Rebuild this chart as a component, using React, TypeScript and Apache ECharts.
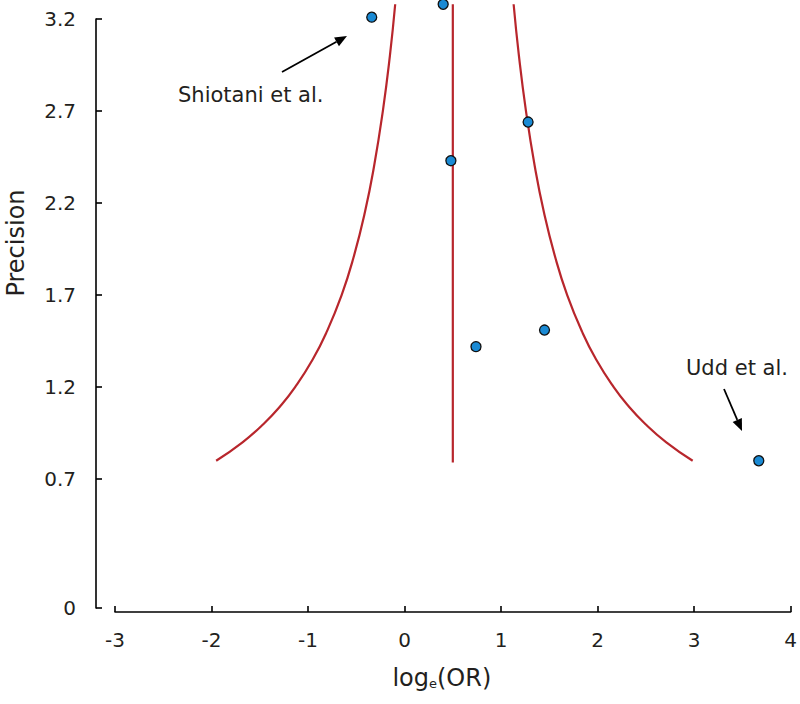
import React, { useEffect, useRef } from "react";
import * as echarts from "echarts";

// ---- data ----
const xTickValues = [-3, -2, -1, 0, 1, 2, 3, 4];
const yTickValues = [0, 0.7, 1.2, 1.7, 2.2, 2.7, 3.2];

// individual studies: log odds ratio and precision (1/SE)
const studyLogOR = [-0.34, 0.4, 1.28, 0.48, 0.74, 1.45, 3.67];
const studyPrecision = [3.21, 3.28, 2.64, 2.43, 1.42, 1.51, 0.8];

// pooled estimate (vertical line)
const pooledLogOR = 0.5;
const pooledPrecisionRange = [0.79, 3.28];

// funnel limits
const funnelPrecision = [0.8, 0.9, 1.0, 1.1, 1.2, 1.35, 1.5, 1.7, 1.9, 2.15, 2.4, 2.7, 3.0, 3.28];
const funnelLeft = [-1.952, -1.679, -1.461, -1.282, -1.134, -0.952, -0.807, -0.652, -0.531, -0.411, -0.316, -0.225, -0.152, -0.097];
const funnelRight = [2.985, 2.712, 2.494, 2.315, 2.167, 1.985, 1.84, 1.685, 1.564, 1.444, 1.349, 1.258, 1.185, 1.13];

const FONT = "DejaVu Sans";
const TEXT = "#231f20";
const RED = "#b8262c";
const BLUE = "#1a8ad4";

function arrow(x1: number, y1: number, x2: number, y2: number) {
  const dx = x2 - x1;
  const dy = y2 - y1;
  const len = Math.sqrt(dx * dx + dy * dy);
  const ux = dx / len;
  const uy = dy / len;
  const head = 12;
  const half = 5;
  const bx = x2 - ux * head;
  const by = y2 - uy * head;
  const px = -uy;
  const py = ux;
  return [
    {
      type: "line",
      shape: { x1, y1, x2: bx, y2: by },
      style: { stroke: "#000", lineWidth: 1.8 },
    },
    {
      type: "polygon",
      shape: {
        points: [
          [x2, y2],
          [bx + px * half, by + py * half],
          [bx - px * half, by - py * half],
        ],
      },
      style: { fill: "#000" },
    },
  ];
}

export default function App() {
  const ref = useRef<HTMLDivElement>(null);

  useEffect(() => {
    if (!ref.current) return;
    const chart = echarts.init(ref.current, null, { renderer: "svg" });

    const studies = studyLogOR.map((x, i) => [x, studyPrecision[i]]);
    const left = funnelLeft.map((x, i) => [x, funnelPrecision[i]]);
    const right = funnelRight.map((x, i) => [x, funnelPrecision[i]]);
    const pooled = pooledPrecisionRange.map((p) => [pooledLogOR, p]);

    const option: any = {
      animation: false,
      backgroundColor: "#fff",
      textStyle: { fontFamily: FONT },
      grid: { left: 115, right: 9, top: 19, bottom: 96, containLabel: false },
      xAxis: {
        type: "value",
        min: xTickValues[0],
        max: xTickValues[xTickValues.length - 1],
        interval: 1,
        offset: 4,
        axisLine: { show: true, onZero: false, lineStyle: { color: "#000", width: 1.6 } },
        axisTick: { show: true, inside: true, length: 6, lineStyle: { color: "#000", width: 1.6 } },
        axisLabel: { fontSize: 20, color: TEXT, fontFamily: FONT, margin: 18 },
        splitLine: { show: false },
        name: "log{sub|e}(OR)",
        nameLocation: "middle",
        nameGap: 53,
        nameTextStyle: {
          fontSize: 24,
          color: TEXT,
          fontFamily: FONT,
          padding: [0, 22, 0, 0],
          rich: {
            sub: { fontSize: 13, color: TEXT, fontFamily: FONT, verticalAlign: "bottom", padding: [12, 0, 0, 0] },
          },
        },
      },
      yAxis: {
        type: "value",
        min: 0,
        max: 3.2,
        offset: 19,
        axisLine: { show: true, onZero: false, lineStyle: { color: "#000", width: 1.6 } },
        axisTick: {
          show: true,
          inside: true,
          length: 6,
          customValues: yTickValues,
          lineStyle: { color: "#000", width: 1.6 },
        },
        axisLabel: {
          fontSize: 20,
          color: TEXT,
          fontFamily: FONT,
          margin: 20,
          customValues: yTickValues,
          formatter: (v: number) => String(v),
        },
        splitLine: { show: false },
      },
      series: [
        {
          type: "line",
          data: left,
          smooth: true,
          symbol: "none",
          clip: false,
          lineStyle: { color: RED, width: 2.2 },
          z: 2,
        },
        {
          type: "line",
          data: right,
          smooth: true,
          symbol: "none",
          clip: false,
          lineStyle: { color: RED, width: 2.2 },
          z: 2,
        },
        {
          type: "line",
          data: pooled,
          symbol: "none",
          clip: false,
          lineStyle: { color: RED, width: 2.2 },
          z: 2,
        },
        {
          type: "scatter",
          data: studies,
          symbol: "circle",
          symbolSize: 10,
          clip: false,
          itemStyle: { color: BLUE, borderColor: "#111", borderWidth: 1.3, opacity: 1 },
          z: 5,
        },
      ],
      graphic: [
        {
          type: "text",
          x: 16,
          y: 243,
          rotation: Math.PI / 2,
          style: {
            text: "Precision",
            fontSize: 24,
            fontFamily: FONT,
            fill: TEXT,
            align: "center",
            verticalAlign: "middle",
          },
        },
        {
          type: "text",
          x: 178,
          y: 95,
          style: {
            text: "Shiotani et al.",
            fontSize: 21,
            fontFamily: FONT,
            fill: TEXT,
            align: "left",
            verticalAlign: "middle",
          },
        },
        {
          type: "text",
          x: 686,
          y: 368,
          style: {
            text: "Udd et al.",
            fontSize: 21,
            fontFamily: FONT,
            fill: TEXT,
            align: "left",
            verticalAlign: "middle",
          },
        },
        ...arrow(282, 72, 347, 36),
        ...arrow(724, 389, 742, 431),
      ],
    };

    chart.setOption(option);
    return () => chart.dispose();
  }, []);

  return (
    <div
      ref={ref}
      style={{ position: "fixed", left: 0, top: 0, width: 800, height: 704, background: "#fff" }}
    />
  );
}
